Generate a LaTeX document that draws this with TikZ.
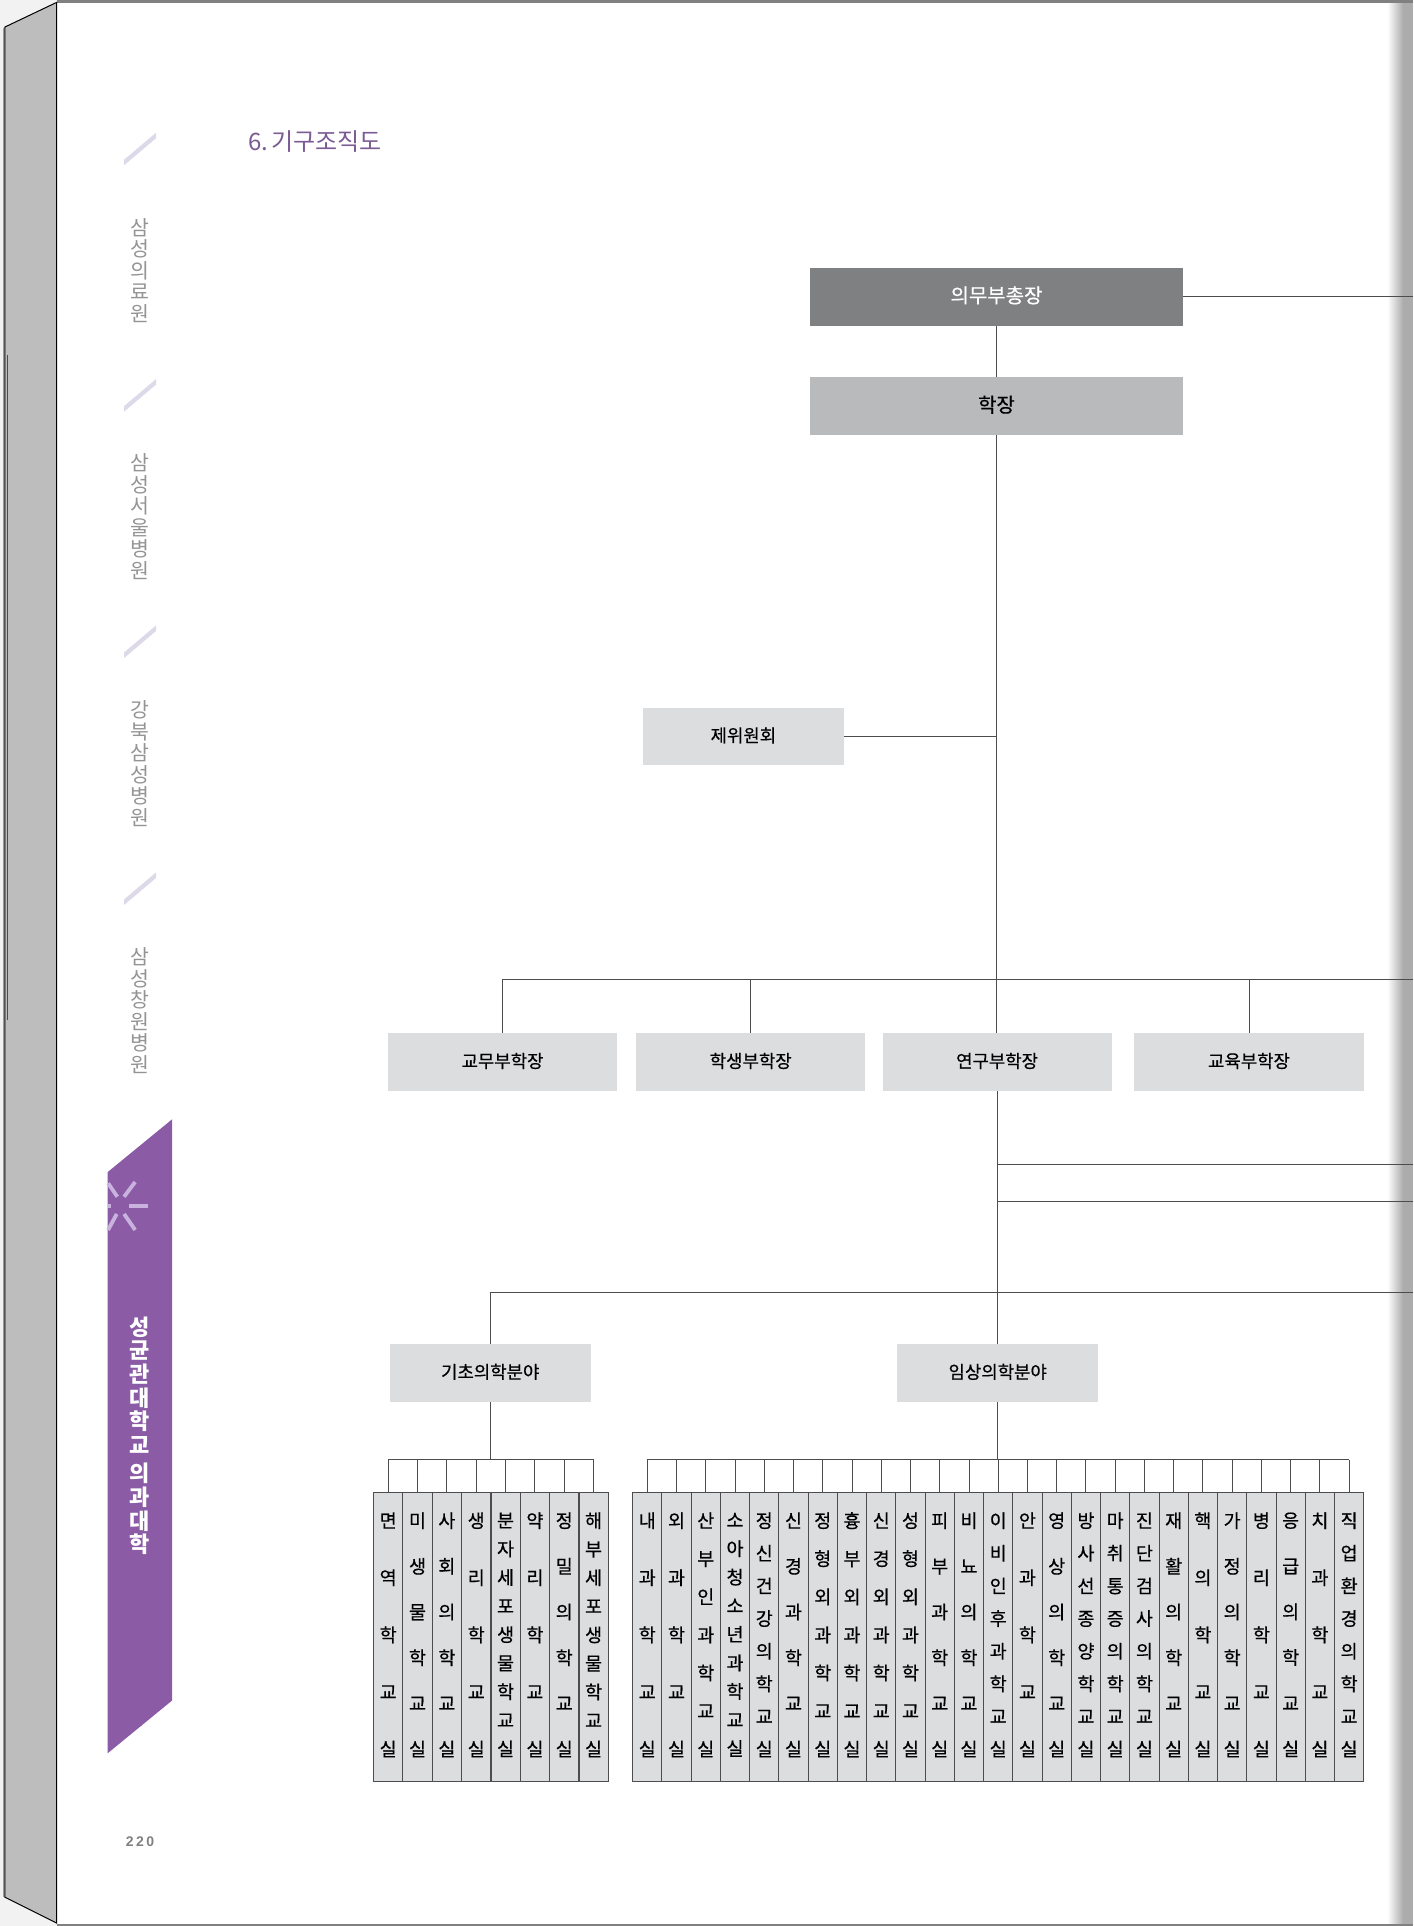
\documentclass[tikz,border=0pt]{standalone}
\usepackage{fontspec}
\setmainfont{Noto Sans CJK KR}
\newfontfamily\krmed[AutoFakeBold=0.5]{Noto Sans CJK KR}
\newfontfamily\numfont[LetterSpace=18]{Liberation Sans}
\usepackage{tikz}
\usetikzlibrary{shapes.geometric}
\definecolor{deanDark}{HTML}{7F8082}
\definecolor{deanMid}{HTML}{B9BABC}
\definecolor{deptGray}{HTML}{DCDDDF}
\definecolor{ribbon}{HTML}{8B5CA5}
\definecolor{titlePurple}{HTML}{7B5B93}
\definecolor{spineGray}{HTML}{BDBDBD}
\definecolor{connGray}{HTML}{4D4D4F}
\definecolor{tabMark}{HTML}{DDD9E8}
\definecolor{rayLight}{HTML}{C9B3DE}
\definecolor{edgeGray}{HTML}{ACACAC}
\tikzset{
orgbox/.style={rectangle, inner sep=0pt, minimum height=57.75pt, text height=14pt, text depth=3.1pt, font=\krmed\bfseries\fontsize{17.8}{20}\selectfont},
widebox/.style={orgbox, minimum width=373.5pt, text height=16pt, text depth=3.8pt, font=\krmed\bfseries\fontsize{20}{22}\selectfont},
vicebox/.style={orgbox, fill=deptGray, minimum width=229pt},
fieldbox/.style={orgbox, fill=deptGray, minimum width=201.5pt},
deptbox/.style={rectangle, draw=connGray, line width=.9pt, fill=deptGray, inner sep=0pt, minimum width=29.24pt, minimum height=288.7pt, align=center},
sidelabel/.style={text=black!42, align=center, font=\fontsize{20.5}{21.5}\selectfont},
conn/.style={draw=connGray, line width=.9pt},
ray/.style={rayLight, line width=3.8pt}
}
\begin{document}
\begin{tikzpicture}[x=1.2287pt, y=-1.2287pt]
    \useasboundingbox (0,0) rectangle (1150,1567.5);

    \fill[black!5] (0,0) rectangle (46,1567.5);
    \shade[left color=white, right color=edgeGray] (1129,0) rectangle (1142,1567.5);
    \fill[edgeGray] (1142,0) rectangle (1150,1567.5);
    \draw[black!50, line width=2.2pt] (46,1.2) -- (1150,1.2);
    \draw[black!50, line width=1.6pt] (46,1566.5) -- (1150,1566.5);
    \draw[black, line width=1pt, fill=spineGray] (46,2) -- (4,22) -- (4,1544) -- (46,1565) -- cycle;
    \draw[black!40, line width=1pt] (3,23) -- (3,1544);
    \draw[titlePurple!70!black, line width=1pt] (6,289) -- (6,830);

    \foreach \y in {0,200.5,401,602}
        \fill[tabMark] (101,130+\y) -- (101,134.5+\y) -- (127,112.5+\y) -- (127,108+\y) -- cycle;
    \node[sidelabel] (side1) at (114,220) {삼\\성\\의\\료\\원};
    \node[sidelabel] (side2) at (114,420.5) {삼\\성\\서\\울\\병\\원};
    \node[sidelabel] (side3) at (114,621.5) {강\\북\\삼\\성\\병\\원};
    \node[sidelabel] (side4) at (114,822.5) {삼\\성\\창\\원\\병\\원};

    \fill[ribbon] (87.5,954) -- (140,911) -- (140,1384) -- (87.5,1427) -- cycle;
    \draw[ray] (105,981.5) -- (120.5,981.5);
    \draw[ray] (87.5,981.5) -- (90,981.5);
    \draw[ray] (101,974) -- (110,962);
    \draw[ray] (101,988) -- (110,1001);
    \draw[ray] (95.5,974) -- (88,963);
    \draw[ray] (95,988) -- (88,1001);
    \node[text=white, align=center, font=\bfseries\fontsize{22}{23.6}\selectfont] (sideActive) at (114,1168.5) {성\\균\\관\\대\\학\\교\\[4.9pt]의\\과\\대\\학};
    \node[text=black!50, font=\numfont\bfseries\fontsize{14}{16}\selectfont] (pageNum) at (114,1499) {220};

    \node[text=titlePurple, font=\krmed\fontsize{24}{26}\selectfont] (title) at (256.5,115) {6.\hspace{.12em}기구조직도};

    \node[widebox, fill=deanDark, text=white] (vicePres) at (811,241.5) {의무부총장};
    \node[widebox, fill=deanMid] (dean) at (811,330.5) {학장};
    \node[fieldbox] (committee) at (605,599.5) {제위원회};
    \node[vicebox] (academic) at (409,864.5) {교무부학장};
    \node[vicebox] (student) at (611,864.5) {학생부학장};
    \node[vicebox] (research) at (811.5,864.5) {연구부학장};
    \node[vicebox] (education) at (1016.5,864.5) {교육부학장};
    \node[fieldbox] (basic) at (399,1117.5) {기초의학분야};
    \node[fieldbox] (clinical) at (812,1117.5) {임상의학분야};

    \coordinate (busViceEnd) at (1150,797.5);
    \coordinate (lineA) at (1150,948);
    \coordinate (lineB) at (1150,977.5);
    \coordinate (busFieldEnd) at (1150,1052);
    \coordinate (headEnd) at (1150,241.5);
    \coordinate (busBasic) at (399,1188);
    \coordinate (busClinical) at (812,1188);

    \draw[conn] (vicePres.east) -- (headEnd);
    \draw[conn] (vicePres.south) -- (dean.north);
    \draw[conn] (dean.south) -- (dean.south |- research.north);
    \draw[conn] (committee.east) -- (committee.east -| dean.south);
    \draw[conn] (academic.north) |- (busViceEnd);
    \draw[conn] (student.north) -- (student.north |- busViceEnd);
    \draw[conn] (education.north) -- (education.north |- busViceEnd);
    \draw[conn] (research.south) -- (research.south |- clinical.north);
    \draw[conn] (research.south |- lineA) -- (lineA);
    \draw[conn] (research.south |- lineB) -- (lineB);
    \draw[conn] (basic.north) |- (busFieldEnd);
    \draw[conn] (basic.south) -- (busBasic);
    \draw[conn] (clinical.south) -- (busClinical);

    \foreach \txt/\n [count=\i] in {
        면\\역\\학\\교\\실/5, 미\\생\\물\\학\\교\\실/6, 사\\회\\의\\학\\교\\실/6, 생\\리\\학\\교\\실/5,
        분\\자\\세\\포\\생\\물\\학\\교\\실/9, 약\\리\\학\\교\\실/5, 정\\밀\\의\\학\\교\\실/6,
        해\\부\\세\\포\\생\\물\\학\\교\\실/9} {
        \pgfmathsetmacro\cx{304+23.88*(\i-.5)}
        \pgfmathsetmacro\bskip{228.5/(\n-1)}
        \node[deptbox] (b\i) at (\cx,1332.5) {};
        \node[font=\krmed\bfseries\fontsize{18.5}{\bskip pt}\selectfont, align=center, inner sep=0pt] (bt\i) at (\cx,1330.5) {\txt};
        \draw[conn] (b\i.north) -- (b\i.north |- busBasic);
    }
    \draw[conn] (b1.north |- busBasic) -- (b8.north |- busBasic);

    \foreach \txt/\n [count=\i] in {
        내\\과\\학\\교\\실/5, 외\\과\\학\\교\\실/5, 산\\부\\인\\과\\학\\교\\실/7,
        소\\아\\청\\소\\년\\과\\학\\교\\실/9, 정\\신\\건\\강\\의\\학\\교\\실/8, 신\\경\\과\\학\\교\\실/6,
        정\\형\\외\\과\\학\\교\\실/7, 흉\\부\\외\\과\\학\\교\\실/7, 신\\경\\외\\과\\학\\교\\실/7,
        성\\형\\외\\과\\학\\교\\실/7, 피\\부\\과\\학\\교\\실/6, 비\\뇨\\의\\학\\교\\실/6,
        이\\비\\인\\후\\과\\학\\교\\실/8, 안\\과\\학\\교\\실/5, 영\\상\\의\\학\\교\\실/6,
        방\\사\\선\\종\\양\\학\\교\\실/8, 마\\취\\통\\증\\의\\학\\교\\실/8, 진\\단\\검\\사\\의\\학\\교\\실/8,
        재\\활\\의\\학\\교\\실/6, 핵\\의\\학\\교\\실/5, 가\\정\\의\\학\\교\\실/6, 병\\리\\학\\교\\실/5,
        응\\급\\의\\학\\교\\실/6, 치\\과\\학\\교\\실/5, 직\\업\\환\\경\\의\\학\\교\\실/8} {
        \pgfmathsetmacro\cx{514.9+23.8*(\i-.5)}
        \pgfmathsetmacro\bskip{228.5/(\n-1)}
        \node[deptbox] (c\i) at (\cx,1332.5) {};
        \node[font=\krmed\bfseries\fontsize{18.5}{\bskip pt}\selectfont, align=center, inner sep=0pt] (ct\i) at (\cx,1330.5) {\txt};
        \draw[conn] (c\i.north) -- (c\i.north |- busClinical);
    }
    \draw[conn] (c1.north |- busClinical) -- (c25.north |- busClinical);

\end{tikzpicture}
\end{document}
